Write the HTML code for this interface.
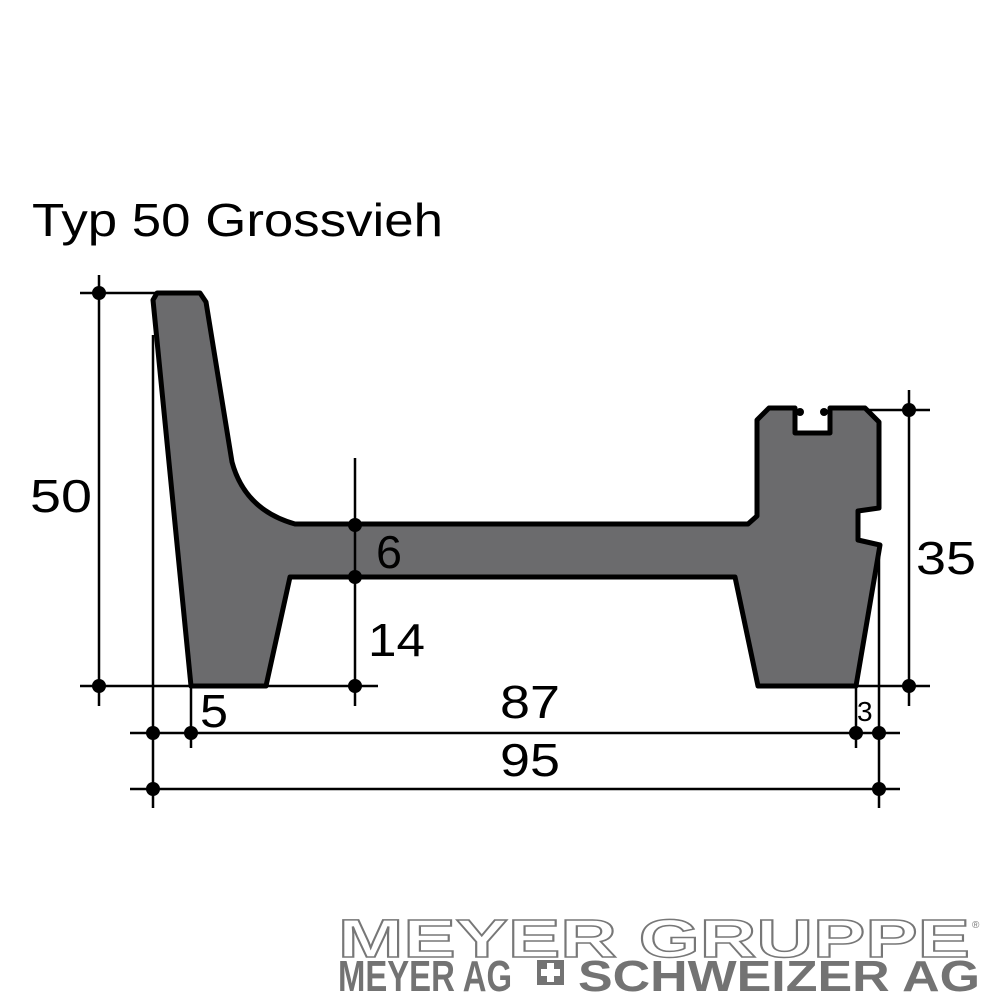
<!DOCTYPE html>
<html><head><style>
html,body{margin:0;padding:0;background:#fff;width:1000px;height:1002px;overflow:hidden}
svg{display:block}
text{font-family:"Liberation Sans",Arial,sans-serif;fill:#000}
</style></head><body>
<svg width="1000" height="1002" viewBox="0 0 1000 1002" xmlns="http://www.w3.org/2000/svg">
<text x="32" y="236" font-size="46" textLength="411" lengthAdjust="spacingAndGlyphs">Typ 50 Grossvieh</text>
<path d="M157,293 L200,293 L206,302 L232,462 Q245,510 295,524 L748,524 L757,516 L757,420 L769,408 L795,408 L795,433 L830,433 L830,408 L865,408 L879,422 L879,508 L858,511 L858,540 L880,545 L856,686 L758,686 L735,577 L290,577 L266,686 L191,686 L153,300 Z" fill="#6b6b6d" stroke="#000" stroke-width="5" stroke-linejoin="round"/>
<circle cx="800" cy="412" r="4" fill="#000"/><circle cx="824" cy="412" r="4" fill="#000"/>
<g stroke="#000" stroke-width="2.5" fill="none">
<line x1="99" y1="275" x2="99" y2="706"/>
<line x1="80" y1="293" x2="157" y2="293"/>
<line x1="80" y1="686" x2="378" y2="686"/>
<line x1="355" y1="458" x2="355" y2="706"/>
<line x1="909" y1="390" x2="909" y2="706"/>
<line x1="865" y1="410" x2="930" y2="410"/>
<line x1="856" y1="686" x2="930" y2="686"/>
<line x1="130" y1="733" x2="900" y2="733"/>
<line x1="130" y1="789" x2="900" y2="789"/>
<line x1="153" y1="335" x2="153" y2="808"/>
<line x1="191" y1="686" x2="191" y2="748"/>
<line x1="856" y1="686" x2="856" y2="748"/>
<line x1="879" y1="545" x2="879" y2="808"/>
</g>
<g fill="#000">
<circle cx="99" cy="293" r="7"/><circle cx="99" cy="686" r="7"/>
<circle cx="355" cy="525" r="7"/><circle cx="355" cy="577" r="7"/><circle cx="355" cy="686" r="7"/>
<circle cx="909" cy="410" r="7"/><circle cx="909" cy="686" r="7"/>
<circle cx="153" cy="733" r="7"/><circle cx="191" cy="733" r="7"/><circle cx="856" cy="733" r="7"/><circle cx="879" cy="733" r="7"/>
<circle cx="153" cy="789" r="7"/><circle cx="879" cy="789" r="7"/>
</g>
<text x="30" y="512" font-size="46" textLength="62" lengthAdjust="spacingAndGlyphs">50</text>
<text x="376" y="568" font-size="46" textLength="26" lengthAdjust="spacingAndGlyphs">6</text>
<text x="368" y="656" font-size="46" textLength="57" lengthAdjust="spacingAndGlyphs">14</text>
<text x="916" y="574" font-size="46" textLength="60" lengthAdjust="spacingAndGlyphs">35</text>
<text x="200" y="727" font-size="46" textLength="28" lengthAdjust="spacingAndGlyphs">5</text>
<text x="500" y="718" font-size="46" textLength="60" lengthAdjust="spacingAndGlyphs">87</text>
<text x="857" y="721" font-size="28">3</text>
<text x="500" y="776" font-size="46" textLength="60" lengthAdjust="spacingAndGlyphs">95</text>
<text x="338" y="957" font-size="54" font-weight="bold" stroke="#777" stroke-width="1.5" textLength="632" lengthAdjust="spacingAndGlyphs" style="fill:#fff">MEYER GRUPPE</text>
<text x="972" y="928" font-size="10" style="fill:#777">®</text>
<text x="338" y="991" font-size="44" font-weight="bold" textLength="174" lengthAdjust="spacingAndGlyphs" style="fill:#737373">MEYER AG</text>
<text x="578" y="991" font-size="44" font-weight="bold" textLength="402" lengthAdjust="spacingAndGlyphs" style="fill:#737373">SCHWEIZER AG</text>
<rect x="537" y="960" width="27" height="25" fill="#737373"/>
<path d="M547,963 h7 v6 h6 v7 h-6 v6 h-7 v-6 h-6 v-7 h6 z" fill="#fff"/>
</svg>
</body></html>
